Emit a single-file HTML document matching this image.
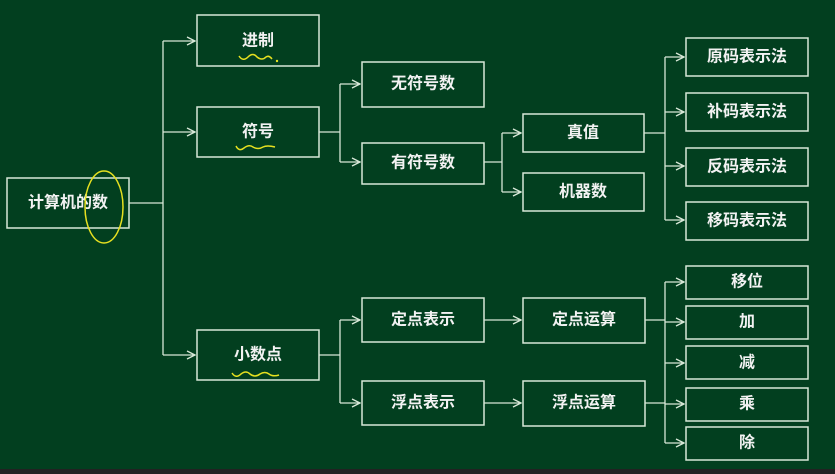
<!DOCTYPE html>
<html><head><meta charset="utf-8"><style>
html,body{margin:0;padding:0;background:#023f1f;}
svg{display:block}
text{font-family:"Liberation Sans","Noto Sans CJK SC",sans-serif;fill:#f2f2f2;font-size:16px;font-weight:bold;text-anchor:middle;dominant-baseline:central}
</style></head><body>
<svg width="835" height="474" viewBox="0 0 835 474">
<rect width="835" height="474" fill="#023f1f"/>
<rect y="469" width="835" height="5" fill="#222"/>
<defs><marker id="a" markerWidth="10" markerHeight="10" refX="9" refY="5" orient="auto" markerUnits="userSpaceOnUse"><path d="M1,1 L9,5 L1,9" fill="none" stroke="#d8e8d8" stroke-width="1.3"/></marker></defs>
<g fill="none" stroke="#d8e8d8" stroke-width="1.5">
<rect x="7" y="178" width="122" height="50"/>
<rect x="197" y="15" width="122" height="51"/>
<rect x="197" y="107" width="122" height="50"/>
<rect x="197" y="330" width="122" height="50"/>
<rect x="362" y="62" width="122" height="45"/>
<rect x="362" y="143" width="122" height="41"/>
<rect x="523" y="114" width="121" height="38"/>
<rect x="523" y="173" width="121" height="38"/>
<rect x="686" y="38" width="122" height="38"/>
<rect x="686" y="93" width="122" height="38"/>
<rect x="686" y="148" width="122" height="38"/>
<rect x="686" y="202" width="122" height="38"/>
<rect x="362" y="298" width="122" height="44"/>
<rect x="362" y="381" width="122" height="44"/>
<rect x="523" y="298" width="122" height="45"/>
<rect x="523" y="381" width="122" height="45"/>
<rect x="686" y="266" width="122" height="33"/>
<rect x="686" y="306" width="122" height="33"/>
<rect x="686" y="346" width="122" height="33"/>
<rect x="686" y="388" width="122" height="33"/>
<rect x="686" y="427" width="122" height="33"/>
</g>
<g fill="none" stroke="#d8e8d8" stroke-width="1.3">
<path d="M129,203 H163 M163,41 V355"/>
<path d="M163,41 H195" marker-end="url(#a)"/><path d="M163,132 H195" marker-end="url(#a)"/><path d="M163,355 H195" marker-end="url(#a)"/>
<path d="M319,132 H340 M340,84 V162 M319,355 H340 M340,320 V403"/>
<path d="M340,84 H360" marker-end="url(#a)"/><path d="M340,162 H360" marker-end="url(#a)"/>
<path d="M340,320 H360" marker-end="url(#a)"/><path d="M340,403 H360" marker-end="url(#a)"/>
<path d="M484,162 H502 M502,133 V192"/>
<path d="M502,133 H521" marker-end="url(#a)"/><path d="M502,192 H521" marker-end="url(#a)"/>
<path d="M484,320 H521" marker-end="url(#a)"/><path d="M484,403 H521" marker-end="url(#a)"/>
<path d="M644,133 H665 M665,57 V220"/>
<path d="M665,57 H684" marker-end="url(#a)"/><path d="M665,112 H684" marker-end="url(#a)"/><path d="M665,166 H684" marker-end="url(#a)"/><path d="M665,220 H684" marker-end="url(#a)"/>
<path d="M645,320 H665 M645,403 H665 M665,282 V443"/>
<path d="M665,282 H684" marker-end="url(#a)"/><path d="M665,322 H684" marker-end="url(#a)"/><path d="M665,363 H684" marker-end="url(#a)"/><path d="M665,404 H684" marker-end="url(#a)"/><path d="M665,443 H684" marker-end="url(#a)"/>
</g>
<text x="68" y="203">计算机的数</text>
<text x="258" y="41">进制</text>
<text x="258" y="132">符号</text>
<text x="258" y="355">小数点</text>
<text x="423" y="84">无符号数</text>
<text x="423" y="163">有符号数</text>
<text x="583" y="133">真值</text>
<text x="583" y="192">机器数</text>
<text x="747" y="57">原码表示法</text>
<text x="747" y="112">补码表示法</text>
<text x="747" y="167">反码表示法</text>
<text x="747" y="221">移码表示法</text>
<text x="423" y="320">定点表示</text>
<text x="423" y="403">浮点表示</text>
<text x="584" y="320">定点运算</text>
<text x="584" y="403">浮点运算</text>
<text x="747" y="282">移位</text>
<text x="747" y="322">加</text>
<text x="747" y="363">减</text>
<text x="747" y="404">乘</text>
<text x="747" y="443">除</text>
<g fill="none" stroke="#e6e020" stroke-width="1.5">
<ellipse cx="104" cy="207" rx="19" ry="36"/>
<path d="M239,56 q4,6 9,1 q5,-5 9,0 q5,4 9,0 q3,-2 6,2"/>
<path d="M236,146 q3,6 8,2 q5,-4 9,-1 q5,3 10,0 q4,-2 12,0"/>
<path d="M232,373 q4,6 9,1 q5,-4 9,0 q5,4 10,0 q5,-3 9,0 q4,3 10,1"/>
</g>
<circle cx="277" cy="61" r="1.2" fill="#e6e020"/>
</svg>
</body></html>
